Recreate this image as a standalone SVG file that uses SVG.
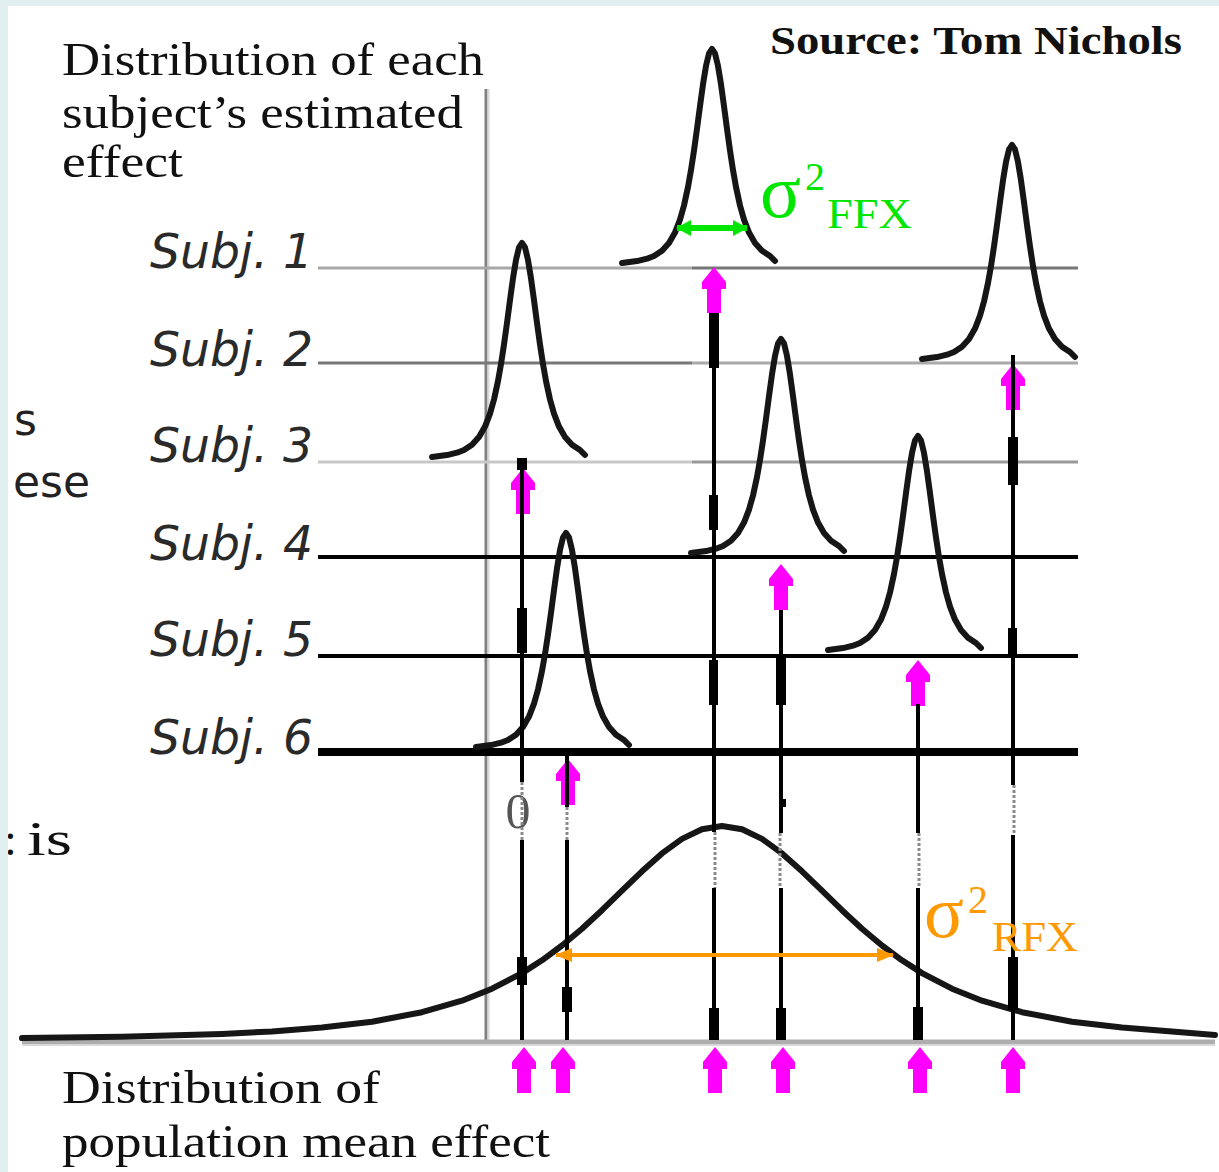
<svg xmlns="http://www.w3.org/2000/svg" xmlns:xlink="http://www.w3.org/1999/xlink" width="1219" height="1172" viewBox="0 0 1219 1172">
<style>
.serif{font-family:"Liberation Serif","Times New Roman",serif;fill:#111}
.subj{font-family:"DejaVu Sans","Verdana",sans-serif;font-style:italic;font-size:48px;fill:#2a2a2a}
.sans{font-family:"DejaVu Sans",sans-serif;font-size:44px;fill:#222}
.curve{fill:none;stroke:#161616;stroke-width:6;stroke-linejoin:round;stroke-linecap:round}
.vl{stroke:#000;stroke-width:4;fill:none}
.thick{fill:#000}
.dot{stroke:#8a8a8a;stroke-width:3;stroke-dasharray:3 2;fill:none}
.mag{fill:#ff00ff}
</style>
<defs>
<path id="bump" d="M-90,-2 L-75,-3.9 L-65,-6.3 L-58,-9 L-50,-14.3 L-43,-22 L-37,-32.4 L-32,-45.4 L-28,-59.5 L-24,-78 L-21,-94.9 L-18,-114.5 L-15,-136.2 L-12,-158.8 L-9,-180.7 L-6,-199.1 L-3,-211.6 L0,-216 L3,-211.6 L6,-199.1 L9,-180.7 L12,-158.8 L15,-136.2 L18,-114.5 L21,-94.9 L24,-78 L28,-59.5 L32,-45.4 L37,-32.4 L43,-22 L50,-14.3 L58,-9 L63,-4"/>
<path id="up" d="M0,0 L12,15 L12,22 L7,22 L7,46 L-7,46 L-7,22 L-12,22 L-12,15 Z"/>
<marker id="ghead" markerUnits="userSpaceOnUse" markerWidth="16" markerHeight="18" refX="14" refY="9" orient="auto-start-reverse" viewBox="0 0 16 18">
<path d="M0,1 L15,9 L0,17 Z" fill="#00e600"/>
</marker>
<marker id="ohead" markerUnits="userSpaceOnUse" markerWidth="18" markerHeight="16" refX="16" refY="8" orient="auto-start-reverse" viewBox="0 0 18 16">
<path d="M0,1 L17,8 L0,15 Z" fill="#ff9900"/>
</marker>
</defs>
<rect x="0" y="0" width="1219" height="1172" fill="#fff"/>

<g id="left-fragments">
<text class="sans" x="37" y="435" text-anchor="end">s</text>
<text class="sans" x="90" y="497" text-anchor="end">ese</text>
<text class="serif" x="4" y="855" font-size="46">:</text>
<text class="serif" x="27" y="855" font-size="48" textLength="45" lengthAdjust="spacingAndGlyphs">is</text>
</g>

<g id="titles">
<text class="serif" x="62" y="75" font-size="47" textLength="422" lengthAdjust="spacingAndGlyphs">Distribution of each</text>
<text class="serif" x="62" y="128" font-size="47" textLength="401" lengthAdjust="spacingAndGlyphs">subject’s estimated</text>
<text class="serif" x="62" y="177" font-size="47" textLength="121" lengthAdjust="spacingAndGlyphs">effect</text>
<text class="serif" x="770" y="54" font-size="41" font-weight="bold" textLength="412" lengthAdjust="spacingAndGlyphs">Source: Tom Nichols</text>
<text class="serif" x="62" y="1103" font-size="47" textLength="318" lengthAdjust="spacingAndGlyphs">Distribution of</text>
<text class="serif" x="62" y="1157" font-size="47" textLength="488" lengthAdjust="spacingAndGlyphs">population mean effect</text>
</g>

<g id="subject-labels">
<text class="subj" x="150" y="268" textLength="163" lengthAdjust="spacingAndGlyphs">Subj. 1</text>
<text class="subj" x="150" y="366" textLength="163" lengthAdjust="spacingAndGlyphs">Subj. 2</text>
<text class="subj" x="150" y="462" textLength="163" lengthAdjust="spacingAndGlyphs">Subj. 3</text>
<text class="subj" x="150" y="560" textLength="163" lengthAdjust="spacingAndGlyphs">Subj. 4</text>
<text class="subj" x="150" y="656" textLength="163" lengthAdjust="spacingAndGlyphs">Subj. 5</text>
<text class="subj" x="150" y="754" textLength="163" lengthAdjust="spacingAndGlyphs">Subj. 6</text>
</g>

<g id="axes">
<line x1="486" y1="89" x2="486" y2="1042" stroke="#808080" stroke-width="3"/>
<line x1="488.5" y1="89" x2="488.5" y2="1042" stroke="#d8d8d8" stroke-width="2"/>
<line x1="22" y1="1042" x2="1215" y2="1042" stroke="#adadad" stroke-width="5"/>
<line x1="22" y1="1045" x2="1215" y2="1045" stroke="#d9d9d9" stroke-width="2"/>
</g>

<g id="subject-lines">
<line x1="318" y1="268" x2="692" y2="268" stroke="#a8a8a8" stroke-width="3"/>
<line x1="692" y1="268" x2="1078" y2="268" stroke="#777" stroke-width="3"/>
<line x1="318" y1="363" x2="692" y2="363" stroke="#777" stroke-width="3"/>
<line x1="692" y1="363" x2="1078" y2="363" stroke="#aaa" stroke-width="3"/>
<line x1="318" y1="462" x2="692" y2="462" stroke="#c8c8c8" stroke-width="3"/>
<line x1="692" y1="462" x2="1078" y2="462" stroke="#999" stroke-width="3"/>
<line x1="318" y1="557" x2="1078" y2="557" stroke="#000" stroke-width="4"/>
<line x1="318" y1="656" x2="1078" y2="656" stroke="#000" stroke-width="4"/>
<line x1="318" y1="752" x2="1078" y2="752" stroke="#000" stroke-width="8"/>
</g>

<text id="zero" class="serif" x="518" y="828" font-size="50" text-anchor="middle" style="fill:#555">0</text>

<g id="subject-curves">
<use xlink:href="#bump" href="#bump" class="curve" transform="translate(712,265)"/>
<use xlink:href="#bump" href="#bump" class="curve" transform="translate(1012,361)"/>
<use xlink:href="#bump" href="#bump" class="curve" transform="translate(522,459)"/>
<use xlink:href="#bump" href="#bump" class="curve" transform="translate(781,555)"/>
<use xlink:href="#bump" href="#bump" class="curve" transform="translate(918,652)"/>
<use xlink:href="#bump" href="#bump" class="curve" transform="translate(566,749)"/>
</g>

<g id="population-curve">
<path class="curve" d="M22,1038.1 L122,1036.7 L222,1033.9 L272,1031.4 L322,1027.6 L372,1021.7 L422,1012.2 L462,1000.7 L492,988.7 L522,973.1 L542,960.3 L562,945.5 L582,928.7 L602,910.2 L622,890.7 L642,871.3 L662,853.4 L682,838.9 L702,829.3 L722,826 L742,829.3 L762,838.9 L782,853.4 L802,871.3 L822,890.7 L842,910.2 L862,928.7 L882,945.5 L902,960.3 L922,973.1 L952,988.7 L982,1000.7 L1022,1012.2 L1072,1021.7 L1122,1027.6 L1172,1031.4 L1215,1035"/>
</g>

<g id="magenta-arrows">
<use xlink:href="#up" href="#up" class="mag" transform="translate(714,267)"/>
<use xlink:href="#up" href="#up" class="mag" transform="translate(1013,364)"/>
<use xlink:href="#up" href="#up" class="mag" transform="translate(523,468)"/>
<use xlink:href="#up" href="#up" class="mag" transform="translate(781,564)"/>
<use xlink:href="#up" href="#up" class="mag" transform="translate(918,660)"/>
<use xlink:href="#up" href="#up" class="mag" transform="translate(568,759)"/>
<use xlink:href="#up" href="#up" class="mag" transform="translate(524,1047)"/>
<use xlink:href="#up" href="#up" class="mag" transform="translate(563,1047)"/>
<use xlink:href="#up" href="#up" class="mag" transform="translate(715,1047)"/>
<use xlink:href="#up" href="#up" class="mag" transform="translate(783,1047)"/>
<use xlink:href="#up" href="#up" class="mag" transform="translate(920,1047)"/>
<use xlink:href="#up" href="#up" class="mag" transform="translate(1013,1047)"/>
</g>

<g id="connectors">
<path class="vl" d="M522,458 V782 M522,840 V1040"/>
<path class="vl" d="M567,752 V807 M567,840 V1040"/>
<path class="vl" d="M714,313 V832 M714,888 V1040"/>
<path class="vl" d="M781,610 V833 M781,888 V1040"/>
<path class="vl" d="M918,704 V833 M918,888 V1040"/>
<path class="vl" d="M1013,355 V785 M1013,835 V1040"/>
<path class="dot" d="M522,782 V840 M567,807 V840 M715,832 V888 M780,833 V888 M919,833 V888 M1014,785 V835"/>
<rect class="thick" x="517" y="458" width="10" height="12"/>
<rect class="thick" x="517" y="608" width="10" height="45"/>
<rect class="thick" x="517" y="957" width="10" height="28"/>
<rect class="thick" x="562" y="987" width="10" height="25"/>
<rect class="thick" x="709" y="313" width="10" height="55"/>
<rect class="thick" x="709" y="495" width="9" height="35"/>
<rect class="thick" x="709" y="660" width="9" height="45"/>
<rect class="thick" x="709" y="1008" width="10" height="32"/>
<rect class="thick" x="776" y="655" width="10" height="50"/>
<rect class="thick" x="781" y="799" width="5" height="8"/>
<rect class="thick" x="776" y="1008" width="10" height="32"/>
<rect class="thick" x="913" y="1007" width="10" height="33"/>
<rect class="thick" x="1008" y="437" width="10" height="48"/>
<rect class="thick" x="1008" y="628" width="9" height="27"/>
<rect class="thick" x="1008" y="957" width="10" height="53"/>
<line x1="677" y1="228" x2="747" y2="228" stroke="#00e600" stroke-width="6" marker-start="url(#ghead)" marker-end="url(#ghead)"/>
<line x1="556" y1="955" x2="893" y2="955" stroke="#ff9900" stroke-width="4" marker-start="url(#ohead)" marker-end="url(#ohead)"/>
</g>

<g id="sigma-ffx" style="font-family:'Liberation Serif','Times New Roman',serif;fill:#00e600">
<text x="760" y="217" font-size="76">σ</text>
<text x="805" y="190" font-size="40">2</text>
<text x="827" y="228" font-size="42" textLength="85" lengthAdjust="spacingAndGlyphs">FFX</text>
</g>
<g id="sigma-rfx" style="font-family:'Liberation Serif','Times New Roman',serif;fill:#ff9900">
<text x="924" y="937" font-size="74">σ</text>
<text x="968" y="913" font-size="40">2</text>
<text x="992" y="951" font-size="42" textLength="86" lengthAdjust="spacingAndGlyphs">RFX</text>
</g>

<g id="border">
<rect x="0" y="0" width="1219" height="6" fill="#e2eff1"/>
<rect x="0" y="0" width="8" height="1172" fill="#e2eff1"/>
</g>
</svg>
